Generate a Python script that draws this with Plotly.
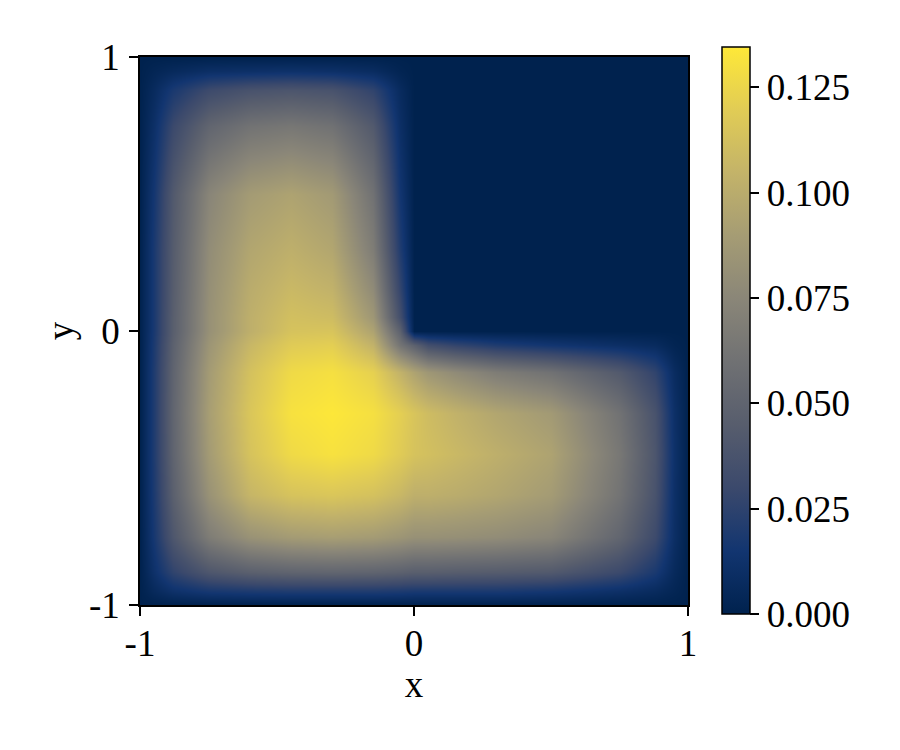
import plotly.graph_objects as go

# grid coordinates (same for x and y), denser near the edges and the re-entrant corner
grid_x = [-1.0, -0.95, -0.88, -0.75, -0.6, -0.45, -0.3, -0.15, -0.05, 0.0,
          0.05, 0.15, 0.3, 0.5, 0.75, 0.88, 0.95, 1.0]
grid_y = list(grid_x)

# u(x, y), one row per y value (bottom to top)
u_rows = [
    [0, 0, 0, 0, 0, 0, 0, 0, 0, 0, 0, 0, 0, 0, 0, 0, 0, 0],
    [0, 0.006, 0.012, 0.017, 0.019, 0.020, 0.020, 0.020, 0.019, 0.018, 0.018, 0.018, 0.018, 0.016, 0.011, 0.007, 0.003, 0],
    [0, 0.012, 0.026, 0.040, 0.047, 0.050, 0.051, 0.050, 0.048, 0.046, 0.046, 0.045, 0.044, 0.042, 0.030, 0.018, 0.006, 0],
    [0, 0.017, 0.040, 0.068, 0.083, 0.089, 0.091, 0.089, 0.085, 0.082, 0.082, 0.081, 0.079, 0.074, 0.051, 0.031, 0.010, 0],
    [0, 0.019, 0.047, 0.083, 0.106, 0.114, 0.116, 0.113, 0.107, 0.102, 0.102, 0.100, 0.096, 0.089, 0.061, 0.037, 0.011, 0],
    [0, 0.020, 0.050, 0.089, 0.114, 0.127, 0.131, 0.127, 0.119, 0.114, 0.112, 0.108, 0.102, 0.094, 0.064, 0.039, 0.012, 0],
    [0, 0.020, 0.051, 0.091, 0.116, 0.131, 0.134, 0.130, 0.121, 0.115, 0.110, 0.104, 0.096, 0.088, 0.060, 0.037, 0.011, 0],
    [0, 0.020, 0.050, 0.089, 0.113, 0.127, 0.130, 0.122, 0.104, 0.094, 0.086, 0.078, 0.068, 0.060, 0.042, 0.026, 0.008, 0],
    [0, 0.019, 0.048, 0.085, 0.107, 0.119, 0.121, 0.104, 0.062, 0.048, 0.034, 0.027, 0.020, 0.015, 0.010, 0.007, 0.002, 0],
    [0, 0.018, 0.046, 0.082, 0.102, 0.114, 0.115, 0.094, 0.048, 0, 0, 0, 0, 0, 0, 0, 0, 0],
    [0, 0.018, 0.046, 0.082, 0.102, 0.112, 0.110, 0.086, 0.034, 0, 0, 0, 0, 0, 0, 0, 0, 0],
    [0, 0.018, 0.045, 0.081, 0.100, 0.108, 0.104, 0.078, 0.027, 0, 0, 0, 0, 0, 0, 0, 0, 0],
    [0, 0.018, 0.044, 0.079, 0.096, 0.102, 0.096, 0.068, 0.020, 0, 0, 0, 0, 0, 0, 0, 0, 0],
    [0, 0.016, 0.042, 0.074, 0.089, 0.094, 0.088, 0.060, 0.015, 0, 0, 0, 0, 0, 0, 0, 0, 0],
    [0, 0.011, 0.030, 0.051, 0.061, 0.064, 0.060, 0.042, 0.010, 0, 0, 0, 0, 0, 0, 0, 0, 0],
    [0, 0.007, 0.018, 0.031, 0.037, 0.039, 0.037, 0.026, 0.007, 0, 0, 0, 0, 0, 0, 0, 0, 0],
    [0, 0.003, 0.006, 0.010, 0.011, 0.012, 0.011, 0.008, 0.002, 0, 0, 0, 0, 0, 0, 0, 0, 0],
    [0, 0, 0, 0, 0, 0, 0, 0, 0, 0, 0, 0, 0, 0, 0, 0, 0, 0],
]

axis_ticks = [-1, 0, 1]
axis_ticktext = ["-1", "0", "1"]
cbar_ticks = [0.0, 0.025, 0.05, 0.075, 0.1, 0.125]
u_max = 0.1346

FONT = "Liberation Serif, DejaVu Serif, serif"
FS = 37

fig = go.Figure(
    go.Heatmap(
        x=grid_x,
        y=grid_y,
        z=u_rows,
        zsmooth="best",
        colorscale="Cividis",
        zmin=0,
        zmax=u_max,
        hoverinfo="skip",
        colorbar=dict(
            thickness=28,
            lenmode="pixels",
            len=567,
            x=1.062,
            xanchor="left",
            y=0.5009,
            yanchor="middle",
            outlinewidth=1.5,
            outlinecolor="black",
            tickvals=cbar_ticks,
            tickformat=".3f",
            ticks="outside",
            ticklen=9,
            tickwidth=1.5,
            tickcolor="black",
            tickfont=dict(family=FONT, size=FS, color="black"),
            xpad=0,
            ypad=0,
        ),
    )
)

axis_common = dict(
    range=[-1, 1],
    tickvals=axis_ticks,
    ticktext=axis_ticktext,
    ticks="outside",
    ticklen=9,
    tickwidth=1.5,
    tickcolor="black",
    showline=True,
    linecolor="black",
    linewidth=1.5,
    mirror=True,
    showgrid=False,
    zeroline=False,
    automargin=False,
    tickfont=dict(family=FONT, size=FS, color="black"),
)

fig.update_xaxes(**axis_common, ticklabelstandoff=-4,
                 title=dict(text="x", font=dict(family=FONT, size=FS, color="black"), standoff=4))
fig.update_yaxes(**axis_common, ticklabelstandoff=2,
                 title=dict(text="y", font=dict(family=FONT, size=FS, color="black"), standoff=4))

# the page body adds 8px, so margins are shifted by that amount
fig.update_layout(
    width=900,
    height=750,
    margin=dict(l=132, r=220, t=49, b=153),
    paper_bgcolor="white",
    plot_bgcolor="white",
    font=dict(family=FONT, size=FS, color="black"),
)

fig.write_html("out.html")
